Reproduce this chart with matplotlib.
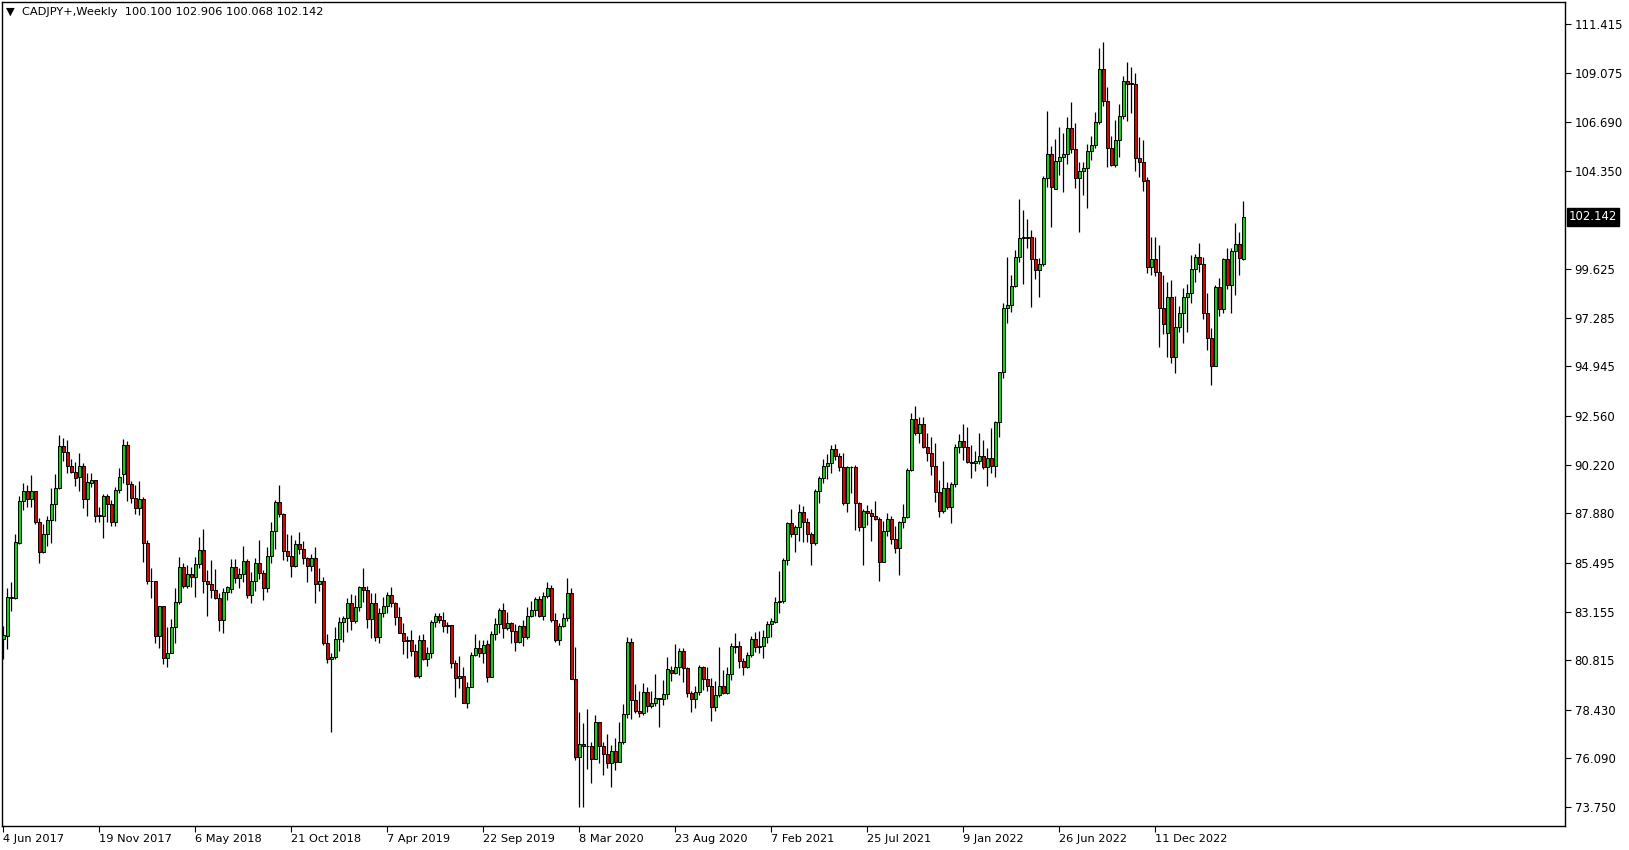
import numpy as np
import pandas as pd
import matplotlib
matplotlib.use("Agg")
import matplotlib.pyplot as plt
import matplotlib.transforms as mtransforms

# weekly CADJPY+ candles
opens = [
    81.82, 81.99, 83.80, 83.79, 86.47, 88.47, 88.95, 88.58, 88.95, 87.48,  # 0
    86.03, 86.87, 87.56, 88.31, 89.08, 91.10, 90.84, 90.15, 89.85, 89.64,
    90.15, 88.58, 89.35, 89.47, 87.77, 87.77, 88.70, 88.31, 87.48, 88.98,
    89.75, 91.16, 89.27, 88.60, 88.12, 88.55, 86.43, 84.62, 84.62, 81.98,
    83.44, 80.90, 81.18, 82.39, 83.63, 85.31, 84.38, 84.94, 84.83, 85.42,
    86.11, 84.64, 84.46, 84.19, 83.82, 82.75, 84.08, 84.24, 85.31, 84.75,  # 50
    84.94, 85.58, 83.95, 84.62, 85.47, 84.99, 84.27, 85.84, 87.03, 88.40,
    87.83, 86.08, 85.84, 85.34, 86.39, 86.16, 85.71, 85.34, 85.74, 84.46,
    84.62, 81.63, 80.86, 80.98, 81.82, 82.67, 82.83, 83.58, 82.72, 83.36,
    84.32, 84.19, 82.78, 83.55, 81.91, 83.07, 83.42, 83.95, 83.55, 82.88,
    82.14, 81.75, 81.79, 81.27, 80.05, 81.79, 80.85, 81.14, 82.63, 82.94,  # 100
    82.75, 82.47, 82.50, 80.66, 79.94, 80.05, 78.77, 79.51, 81.06, 81.38,
    81.18, 81.59, 80.02, 82.07, 82.55, 83.23, 82.35, 82.59, 82.22, 81.70,
    82.46, 81.91, 82.94, 83.23, 83.76, 82.96, 83.90, 84.27, 82.75, 81.78,
    82.46, 82.83, 84.03, 79.89, 76.14, 76.78, 76.69, 76.69, 76.05, 77.82,
    76.69, 76.29, 75.85, 76.46, 75.90, 76.86, 78.21, 81.67, 78.90, 78.39,  # 150
    78.26, 79.30, 78.63, 78.74, 78.98, 78.95, 79.17, 80.35, 80.18, 80.47,
    81.24, 80.42, 79.22, 78.93, 79.30, 80.50, 79.89, 79.57, 78.55, 79.12,
    79.59, 79.25, 80.15, 81.50, 81.50, 80.79, 80.50, 81.06, 81.82, 81.46,
    81.50, 81.91, 82.54, 82.67, 83.60, 83.65, 85.63, 87.40, 86.88, 87.20,
    87.93, 87.48, 86.88, 86.47, 88.95, 89.56, 90.17, 90.28, 90.96, 90.65,  # 200
    90.12, 88.39, 90.09, 90.09, 88.39, 87.24, 88.00, 87.88, 87.75, 87.59,
    85.55, 87.03, 87.59, 86.63, 86.20, 87.44, 87.68, 89.96, 92.40, 91.76,
    92.16, 91.05, 90.76, 90.17, 88.89, 87.99, 89.08, 88.20, 89.27, 91.05,
    91.37, 91.05, 90.33, 90.28, 90.39, 90.63, 90.12, 90.52, 90.17, 92.26,
    94.66, 97.74, 97.90, 98.83, 100.22, 101.11, 101.11, 101.19, 100.09, 99.58,  # 250
    99.85, 103.99, 105.15, 103.48, 104.82, 105.03, 105.15, 106.40, 105.39, 103.99,
    104.36, 104.47, 105.32, 105.59, 106.68, 109.23, 107.73, 105.43, 104.63, 105.83,
    106.99, 108.67, 108.59, 108.51, 104.98, 104.79, 103.91, 99.74, 100.09, 99.47,
    97.74, 96.54, 98.27, 95.38, 96.83, 97.53, 98.30, 98.46, 99.61, 100.19,
    99.85, 97.53, 96.30, 94.98, 98.78, 97.71, 100.11, 98.86, 100.51, 100.81,  # 300
    100.100,
]
highs = [
    82.46, 84.27, 84.56, 86.88, 88.71, 89.35, 89.22, 89.72, 88.95, 87.67,
    87.35, 87.77, 89.08, 89.77, 91.65, 91.49, 91.40, 90.49, 90.33, 90.76,
    90.28, 89.80, 89.80, 89.47, 88.17, 88.81, 88.81, 88.52, 89.16, 90.07,
    91.47, 91.37, 89.45, 89.24, 89.43, 88.68, 86.59, 85.23, 84.62, 83.44,
    83.44, 82.39, 82.78, 84.27, 85.76, 85.47, 85.39, 85.31, 85.79, 86.75,
    87.12, 85.15, 85.63, 85.20, 84.03, 84.27, 84.38, 85.68, 85.68, 85.23,
    86.31, 85.66, 85.04, 85.71, 86.59, 85.15, 86.24, 87.44, 88.52, 89.24,
    87.88, 86.88, 86.84, 86.59, 86.99, 86.55, 85.79, 85.90, 86.24, 85.23,
    84.83, 82.06, 81.18, 82.39, 82.91, 82.95, 83.82, 83.99, 83.95, 84.38,
    85.23, 84.38, 84.03, 84.03, 83.31, 83.84, 84.11, 84.35, 83.60, 83.36,
    82.59, 81.98, 82.27, 81.59, 82.03, 82.07, 81.46, 82.75, 83.07, 83.07,
    83.12, 82.67, 82.50, 80.82, 81.02, 80.47, 79.78, 81.22, 82.06, 81.79,
    81.79, 81.79, 82.23, 82.83, 83.31, 83.55, 83.15, 82.63, 82.54, 82.51,
    82.75, 83.36, 83.68, 83.87, 83.92, 84.11, 84.56, 84.43, 83.07, 82.59,
    83.07, 84.78, 84.27, 81.43, 78.34, 77.78, 78.45, 76.89, 78.18, 77.82,
    76.86, 77.26, 76.73, 77.05, 77.82, 78.71, 81.91, 81.87, 79.67, 79.33,
    79.73, 79.54, 79.33, 80.15, 79.01, 79.86, 80.98, 80.55, 81.59, 81.38,
    81.38, 80.50, 79.35, 79.59, 80.58, 80.55, 80.50, 79.94, 79.83, 81.43,
    80.34, 80.50, 81.62, 82.11, 81.75, 80.90, 81.22, 81.98, 82.19, 82.22,
    82.27, 82.70, 82.83, 83.87, 85.10, 85.71, 87.48, 88.09, 87.31, 88.33,
    88.23, 87.64, 86.99, 89.03, 89.69, 90.48, 90.73, 91.16, 91.21, 90.80,
    90.76, 90.15, 90.15, 90.20, 88.44, 88.07, 88.28, 88.07, 88.47, 87.72,
    87.51, 87.88, 87.75, 87.27, 87.52, 88.31, 90.04, 92.72, 93.04, 92.50,
    92.50, 91.73, 91.57, 91.24, 89.48, 90.39, 89.40, 89.40, 91.21, 91.69,
    92.18, 92.02, 91.16, 90.87, 91.73, 91.40, 91.00, 91.97, 92.32, 94.66,
    98.01, 100.19, 99.34, 100.54, 103.00, 102.47, 102.02, 101.51, 101.18, 100.17,
    104.12, 107.23, 105.55, 105.88, 106.44, 106.19, 106.93, 107.68, 106.64, 104.76,
    104.79, 105.63, 106.03, 107.17, 110.24, 110.53, 108.37, 106.04, 106.80, 107.57,
    108.93, 109.57, 109.33, 109.04, 105.96, 105.84, 104.07, 101.18, 101.18, 100.78,
    99.34, 99.02, 99.10, 98.35, 97.85, 98.73, 98.91, 100.30, 100.35, 100.90,
    100.22, 98.46, 96.78, 98.86, 99.18, 100.17, 100.62, 100.62, 101.86, 101.43,
    102.906,
]
lows = [
    80.85, 81.37, 83.20, 83.77, 86.40, 88.04, 88.17, 88.17, 87.35, 85.47,
    85.98, 86.32, 86.44, 87.51, 89.03, 90.41, 89.80, 89.80, 89.21, 88.97,
    88.15, 87.77, 89.16, 87.48, 87.48, 86.71, 87.48, 87.29, 87.27, 88.87,
    89.32, 88.49, 88.36, 87.83, 87.80, 85.55, 84.46, 83.82, 81.66, 81.38,
    80.63, 80.50, 81.15, 81.63, 83.52, 84.27, 84.30, 84.35, 83.87, 85.23,
    84.03, 82.95, 83.82, 83.74, 82.23, 82.14, 83.71, 84.06, 84.51, 84.27,
    84.59, 83.82, 83.58, 84.16, 84.70, 83.71, 84.08, 85.47, 86.15, 87.68,
    85.63, 85.58, 84.83, 85.31, 85.92, 85.42, 84.59, 85.10, 83.55, 84.16,
    81.55, 80.66, 77.36, 80.86, 81.27, 81.70, 82.19, 82.27, 82.59, 83.20,
    83.63, 82.38, 81.87, 81.75, 81.63, 82.91, 83.07, 83.36, 82.51, 82.11,
    81.11, 80.90, 81.03, 80.02, 79.94, 80.82, 80.53, 80.90, 82.43, 82.59,
    82.19, 82.11, 80.42, 79.06, 79.46, 78.77, 78.50, 79.51, 81.03, 80.95,
    80.66, 79.78, 80.02, 81.79, 82.11, 81.87, 82.27, 81.62, 81.27, 81.62,
    81.51, 81.83, 82.91, 82.96, 82.91, 82.75, 83.79, 82.67, 81.70, 81.54,
    82.43, 82.71, 79.89, 76.01, 73.77, 73.77, 75.56, 74.92, 76.05, 75.88,
    75.29, 75.61, 74.73, 75.53, 75.90, 76.78, 78.02, 77.98, 78.29, 78.10,
    78.18, 78.34, 78.50, 78.63, 77.58, 78.66, 78.95, 79.83, 80.15, 80.10,
    79.78, 79.03, 78.34, 78.53, 79.14, 79.38, 79.35, 77.90, 78.39, 79.06,
    79.19, 79.19, 79.86, 81.14, 80.42, 80.10, 80.42, 80.98, 81.22, 81.14,
    80.90, 81.62, 81.94, 82.62, 83.10, 83.55, 85.39, 86.72, 86.03, 86.56,
    86.51, 86.51, 85.39, 86.35, 88.39, 89.32, 89.53, 89.80, 90.44, 89.91,
    88.28, 87.96, 88.87, 87.08, 87.04, 85.39, 87.32, 86.56, 87.56, 84.64,
    85.52, 86.80, 86.40, 85.95, 84.91, 87.16, 87.64, 89.91, 91.65, 91.24,
    91.00, 90.41, 89.72, 88.41, 87.69, 87.88, 88.07, 87.43, 89.16, 90.76,
    90.44, 90.31, 89.56, 89.93, 90.25, 90.01, 89.21, 89.80, 89.64, 91.57,
    94.37, 97.05, 97.58, 98.75, 99.95, 98.91, 100.62, 97.79, 99.13, 98.30,
    99.79, 103.59, 101.67, 103.46, 104.15, 103.35, 104.67, 105.23, 103.54, 101.43,
    103.19, 102.58, 104.87, 105.46, 106.59, 107.47, 104.55, 104.58, 104.52, 105.03,
    106.83, 106.77, 107.15, 104.36, 104.07, 103.40, 99.45, 99.34, 99.29, 95.86,
    96.49, 95.41, 95.09, 94.61, 96.62, 96.05, 96.62, 97.98, 99.02, 99.47,
    97.21, 95.73, 94.05, 94.98, 97.37, 97.50, 98.65, 97.50, 98.38, 99.34,
    100.068,
]
closes = [
    82.03, 83.84, 83.85, 86.48, 88.47, 88.95, 88.58, 88.95, 87.48, 86.03,
    86.87, 87.56, 88.31, 89.08, 91.10, 90.84, 90.15, 89.85, 89.59, 90.15,
    88.58, 89.39, 89.47, 87.77, 87.79, 88.70, 88.31, 87.48, 88.98, 89.61,
    91.16, 89.27, 88.60, 88.12, 88.55, 86.43, 84.62, 84.64, 81.98, 83.44,
    80.90, 81.18, 82.39, 83.63, 85.31, 84.38, 84.94, 84.83, 85.42, 86.11,
    84.64, 84.46, 84.19, 83.82, 82.75, 84.08, 84.32, 85.31, 84.75, 84.94,
    85.58, 83.95, 84.62, 85.47, 84.99, 84.27, 85.84, 87.03, 88.40, 87.83,
    86.08, 85.82, 85.34, 86.39, 86.16, 85.71, 85.34, 85.74, 84.46, 84.64,
    81.63, 80.86, 80.98, 81.82, 82.67, 82.83, 83.58, 82.72, 83.36, 84.32,
    84.19, 82.78, 83.55, 81.91, 83.07, 83.42, 83.95, 83.55, 82.88, 82.14,
    81.75, 81.79, 81.27, 80.05, 81.79, 80.85, 81.14, 82.63, 82.94, 82.75,
    82.47, 82.50, 80.66, 79.94, 80.05, 78.77, 79.51, 81.06, 81.38, 81.18,
    81.54, 80.02, 82.07, 82.55, 83.23, 82.35, 82.59, 82.22, 81.70, 82.46,
    81.91, 82.94, 83.23, 83.76, 82.96, 83.90, 84.27, 82.75, 81.78, 82.46,
    82.83, 84.03, 79.89, 76.14, 76.78, 76.69, 76.70, 76.05, 77.82, 76.69,
    76.29, 75.85, 76.46, 75.90, 76.86, 78.21, 81.67, 78.90, 78.39, 78.26,
    79.30, 78.63, 78.74, 78.98, 78.95, 79.17, 80.37, 80.18, 80.47, 81.24,
    80.42, 79.22, 78.93, 79.30, 80.50, 79.89, 79.57, 78.55, 79.12, 79.59,
    79.25, 80.15, 81.50, 81.43, 80.79, 80.50, 81.06, 81.83, 81.46, 81.50,
    81.91, 82.54, 82.70, 83.60, 83.65, 85.63, 87.40, 86.88, 87.20, 87.93,
    87.48, 86.88, 86.47, 88.95, 89.56, 90.17, 90.28, 90.96, 90.65, 90.12,
    88.39, 90.09, 90.10, 88.39, 87.24, 88.00, 87.88, 87.75, 87.59, 85.55,
    87.03, 87.59, 86.63, 86.20, 87.44, 87.68, 89.96, 92.40, 91.76, 92.16,
    91.05, 90.76, 90.17, 88.89, 87.99, 89.08, 88.20, 89.27, 91.05, 91.37,
    91.05, 90.33, 90.28, 90.39, 90.63, 90.12, 90.52, 90.17, 92.26, 94.66,
    97.74, 97.90, 98.83, 100.22, 101.11, 101.16, 101.19, 100.09, 99.58, 99.85,
    103.99, 105.15, 103.56, 104.82, 105.03, 105.15, 106.40, 105.39, 103.99, 104.36,
    104.47, 105.32, 105.59, 106.68, 109.23, 107.73, 105.43, 104.63, 105.83, 106.99,
    108.67, 108.51, 108.51, 104.98, 104.79, 103.88, 99.74, 100.09, 99.47, 97.74,
    96.97, 98.27, 95.38, 96.83, 97.53, 98.30, 98.46, 99.61, 100.22, 99.85,
    97.53, 96.30, 94.98, 98.78, 97.71, 100.11, 98.86, 100.51, 100.81, 100.14,
    102.142,
]

price_ticks = [73.750, 76.090, 78.430, 80.815, 83.155, 85.495, 87.880,
               90.220, 92.560, 94.945, 97.285, 99.625, 104.350, 106.690,
               109.075, 111.415]
title = "\u25bc  CADJPY+,Weekly  100.100 102.906 100.068 102.142"
last_price = "102.142"

n = len(closes)
weeks = pd.date_range("2017-06-04", periods=n, freq="7D")

o = np.array(opens)
h = np.array(highs)
l = np.array(lows)
c = np.array(closes)
x = np.arange(n)

up = c >= o
body_lo = np.minimum(o, c)
body_h = np.maximum(np.abs(c - o), 0.015)
cols = np.where(up, "#00dc00", "#e00000")

fig = plt.figure(figsize=(16.29, 8.5), dpi=100)
ax = fig.add_axes([2 / 1629, 24 / 850, 1563 / 1629, 824 / 850])

ax.vlines(x, l, h, color="black", lw=0.9, zorder=1)
ax.bar(x, body_h, bottom=body_lo, width=0.72, color=cols,
       edgecolor="black", linewidth=0.7, zorder=2)

ax.set_xlim(-0.33, 390.4)
ax.set_ylim(72.84, 112.47)

# price scale on the right
ax.yaxis.tick_right()
ax.set_yticks(price_ticks)
ax.set_yticklabels([f"{v:.3f}" for v in price_ticks])
ax.tick_params(axis="y", direction="out", length=4, pad=3, labelsize=8.4,
               width=0.8)

# date labels every 24 weeks
lab_idx = x[::24]
ax.set_xticks(lab_idx)
ax.set_xticklabels([f"{d.day} {d.strftime('%b %Y')}" for d in weeks[lab_idx]])
for t in ax.get_xticklabels():
    t.set_horizontalalignment("left")
ax.tick_params(axis="x", direction="out", length=4, pad=2, labelsize=8.2,
               width=0.8)

for s in ax.spines.values():
    s.set_color("black")
    s.set_linewidth(1.0)

ax.text(0.0025, 0.994, title, transform=ax.transAxes, va="top", ha="left",
        fontsize=8.2)

trans = mtransforms.blended_transform_factory(ax.transAxes, ax.transData)
ax.text(1.0025, float(last_price), last_price, transform=trans,
        va="center", ha="left", fontsize=8.4, color="white",
        bbox=dict(boxstyle="square,pad=0.2", fc="black", ec="black"))

fig.savefig("out.png", dpi=100)
